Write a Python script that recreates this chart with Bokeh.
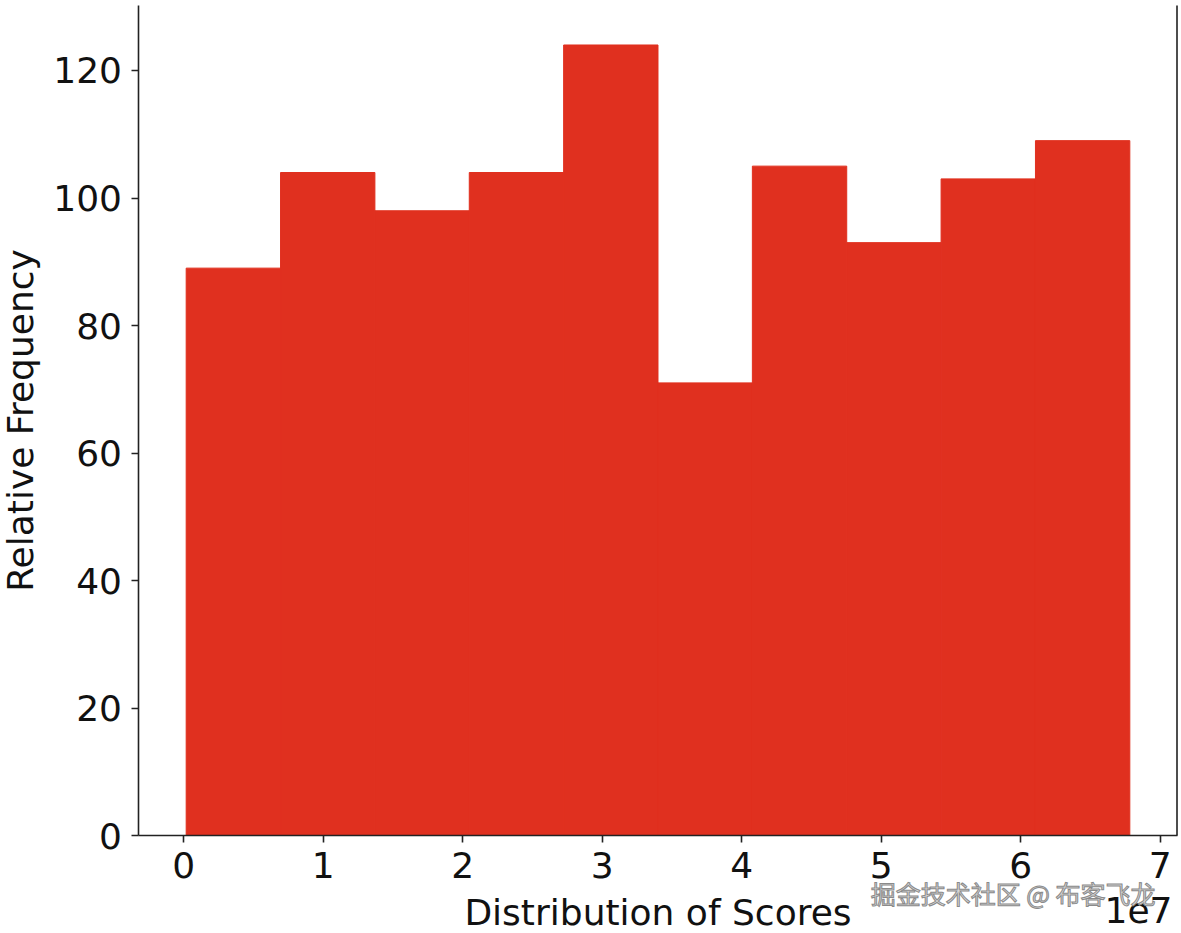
import numpy as np
from bokeh.plotting import figure
from bokeh.models import FixedTicker, Label, Range1d
from bokeh.embed import file_html
from bokeh.resources import INLINE

# data
counts = [89, 104, 98, 104, 124, 71, 105, 93, 103, 109]
score_min = 0.017e7
score_max = 6.782e7
x_ticks = [0, 1e7, 2e7, 3e7, 4e7, 5e7, 6e7, 7e7]
x_tick_labels = ["0", "1", "2", "3", "4", "5", "6", "7"]
y_ticks = [0, 20, 40, 60, 80, 100, 120]

edges = np.linspace(score_min, score_max, len(counts) + 1)

# matplotlib-like 5% margins for the axes box
span = score_max - score_min
x_lo, x_hi = score_min - 0.05 * span, score_max + 0.05 * span
y_lo, y_hi = 0, max(counts) * 1.05

# view window (the frame covers the whole canvas; axes are drawn at fixed positions)
W, H = 1181, 933
view_x = Range1d(-1.3141e7, 7.1525e7)
view_y = Range1d(-15.37, 130.98)

FONT = "DejaVu Sans"
FS = "36px"
INK = "#111111"
RED = "#e0301f"

p = figure(width=W, height=H, output_backend="svg", toolbar_location=None,
           x_range=view_x, y_range=view_y,
           min_border_left=0, min_border_right=0, min_border_top=0, min_border_bottom=0)
p.quad(left=edges[:-1], right=edges[1:], bottom=0, top=counts,
       fill_color=RED, line_color=RED, line_width=1)

p.grid.visible = False
p.outline_line_color = None
p.background_fill_color = "white"
p.border_fill_color = "white"

for ax in (p.xaxis[0], p.yaxis[0]):
    ax.axis_line_color = "#222222"
    ax.axis_line_width = 1.6
    ax.major_tick_line_color = "#222222"
    ax.major_tick_line_width = 1.6
    ax.major_tick_out = 7
    ax.major_tick_in = 0
    ax.minor_tick_line_color = None
    ax.major_label_text_font = FONT
    ax.major_label_text_font_size = FS
    ax.major_label_text_color = INK
    ax.axis_label_text_font = FONT
    ax.axis_label_text_font_size = FS
    ax.axis_label_text_font_style = "normal"
    ax.axis_label_text_color = INK

p.xaxis.fixed_location = 0
p.xaxis.bounds = (x_lo, x_hi)
p.xaxis.ticker = FixedTicker(ticks=x_ticks)
p.xaxis.major_label_overrides = {t: l for t, l in zip(x_ticks, x_tick_labels)}
p.xaxis.axis_label = "Distribution of Scores"
p.xaxis.major_label_standoff = 9
p.xaxis.axis_label_standoff = 11

p.yaxis.fixed_location = x_lo
p.yaxis.bounds = (y_lo, y_hi)
p.yaxis.ticker = FixedTicker(ticks=y_ticks)
p.yaxis.axis_label = "Relative Frequency"
p.yaxis.major_label_standoff = 10
p.yaxis.axis_label_standoff = 9

# right spine
p.segment(x0=[x_hi], y0=[y_lo], x1=[x_hi], y1=[y_hi], line_color="#222222", line_width=1.6)

p.add_layout(Label(x=7.088e7, y=-11.75, text="1e7", text_font=FONT, text_font_size=FS,
                   text_color=INK, text_align="right", text_baseline="middle"))
p.add_layout(Label(x=6.966e7, y=-8.94, text="掘金技术社区 @ 布客飞龙", text_font="Noto Sans CJK SC",
                   text_font_size="25px", text_color="#d9d9d9", text_outline_color="#8a8a8a",
                   text_align="right", text_baseline="middle"))

open("out.html", "w").write(file_html(p, INLINE))
